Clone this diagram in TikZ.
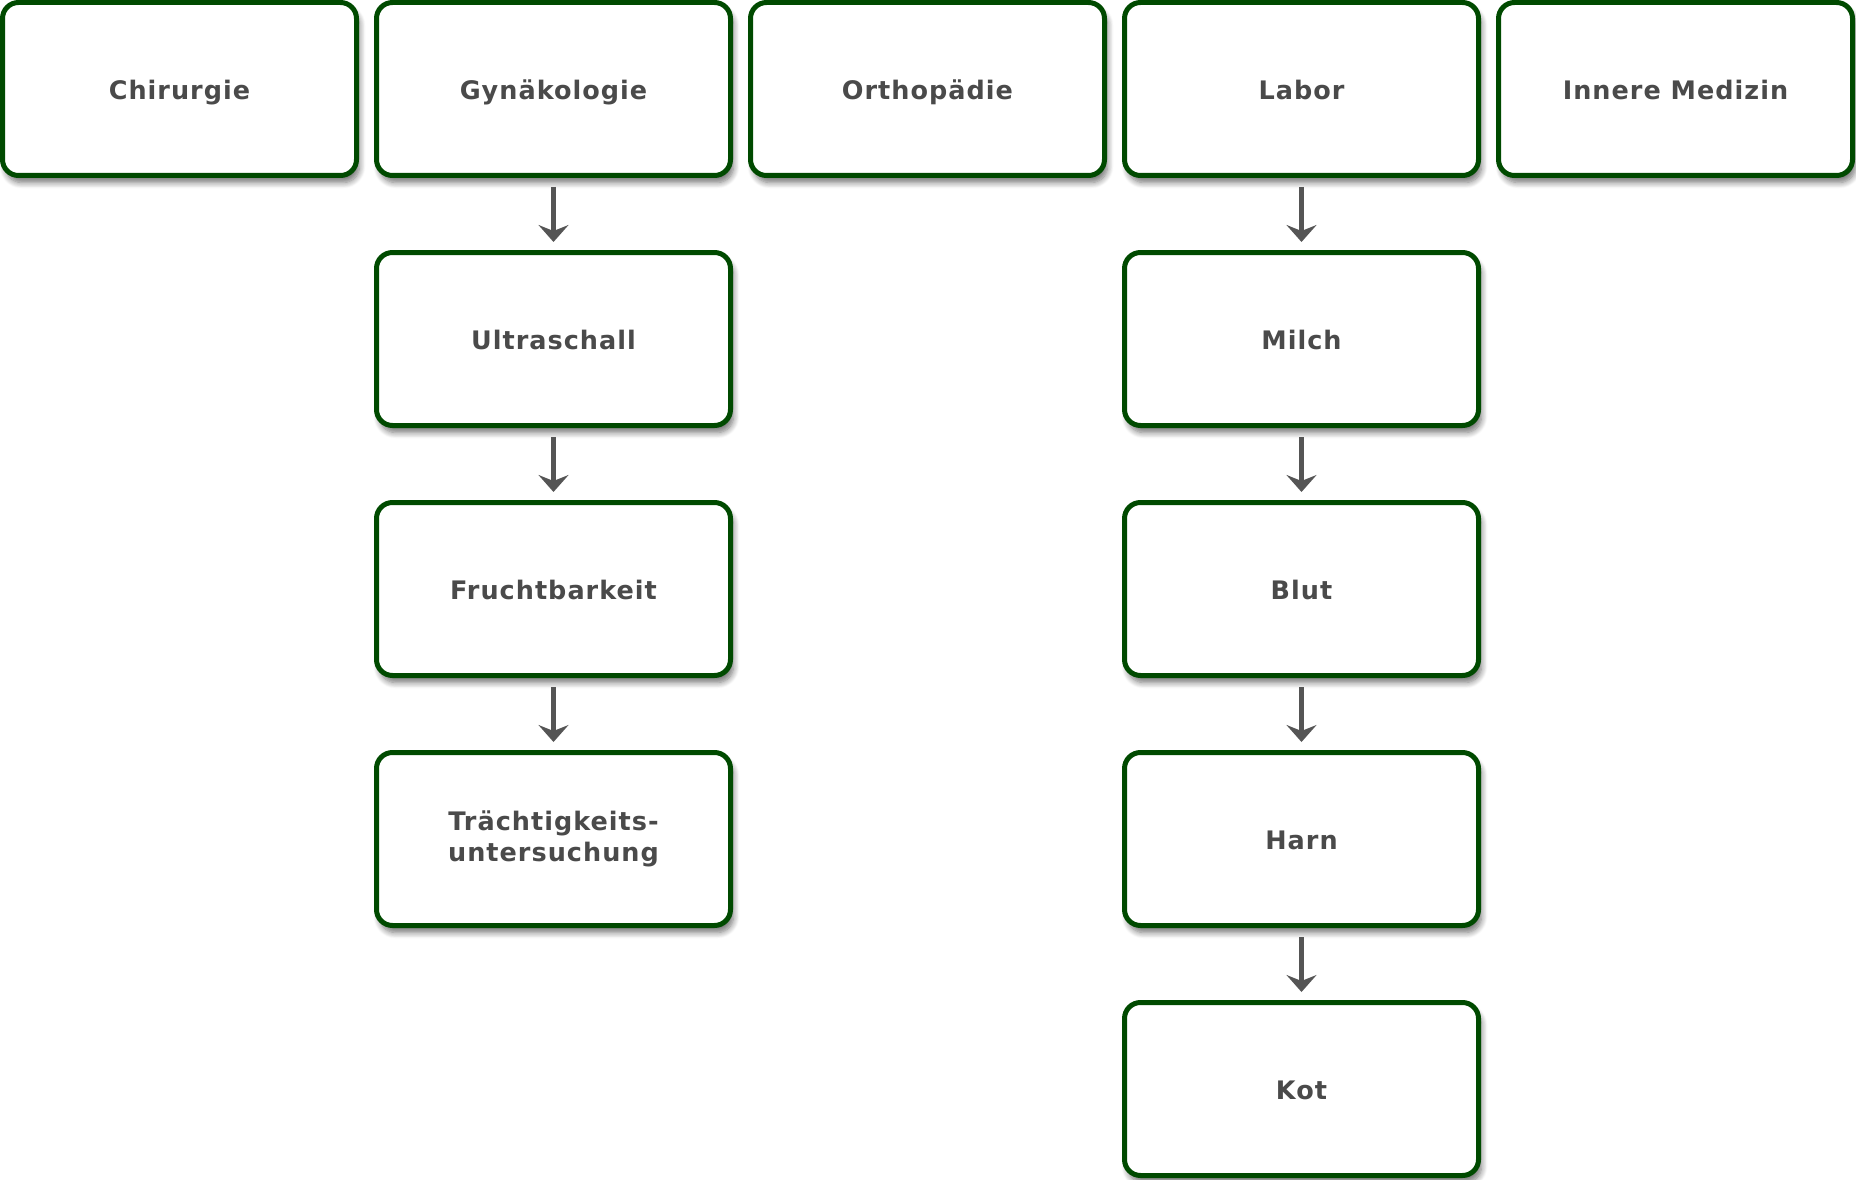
\documentclass[tikz,border=0pt]{standalone}
\usepackage{fontspec}
\setmainfont{DejaVu Sans}[LetterSpace=4]
\usetikzlibrary{arrows.meta,shadows.blur}
\definecolor{boxgreen}{HTML}{004A00}
\definecolor{txtgray}{HTML}{4A4A4A}
\definecolor{arrgray}{HTML}{555555}
\tikzset{
  catbox/.style={draw=boxgreen, line width=5pt, rounded corners=16pt, fill=white,
    minimum width=354pt, minimum height=173pt, inner sep=0pt,
    text=txtgray, font=\fontsize{25.5}{31}\selectfont\bfseries,
    text height=23pt, text depth=2pt,
    blur shadow={shadow xshift=3pt, shadow yshift=-7pt, shadow blur steps=8, shadow blur radius=6pt, shadow opacity=55}},
  twoline/.style={align=center, text height=, text depth=},
  flow/.style={draw=arrgray, line width=5pt,
    -{Stealth[length=17pt,width=30pt,inset=6pt]},
    shorten <=9pt, shorten >=8pt}
}
\begin{document}
\begin{tikzpicture}[x=1pt,y=-1pt]
\useasboundingbox (0,0) rectangle (1856,1180);
\node[catbox] (chir) at (179.5,89) {Chirurgie};
\node[catbox] (gyn) at (553.5,89) {Gynäkologie};
\node[catbox] (orth) at (927.5,89) {Orthopädie};
\node[catbox] (lab) at (1301.5,89) {Labor};
\node[catbox] (inn) at (1675.5,89) {Innere Medizin};
\node[catbox] (ultra) at (553.5,339) {Ultraschall};
\node[catbox] (frucht) at (553.5,589) {Fruchtbarkeit};
\node[catbox,twoline] (traecht) at (553.5,839) {Trächtigkeits-\\untersuchung};
\node[catbox] (milch) at (1301.5,339) {Milch};
\node[catbox] (blut) at (1301.5,589) {Blut};
\node[catbox] (harn) at (1301.5,839) {Harn};
\node[catbox] (kot) at (1301.5,1089) {Kot};
\draw[flow] (gyn) -- (ultra);
\draw[flow] (ultra) -- (frucht);
\draw[flow] (frucht) -- (traecht);
\draw[flow] (lab) -- (milch);
\draw[flow] (milch) -- (blut);
\draw[flow] (blut) -- (harn);
\draw[flow] (harn) -- (kot);
\end{tikzpicture}
\end{document}
